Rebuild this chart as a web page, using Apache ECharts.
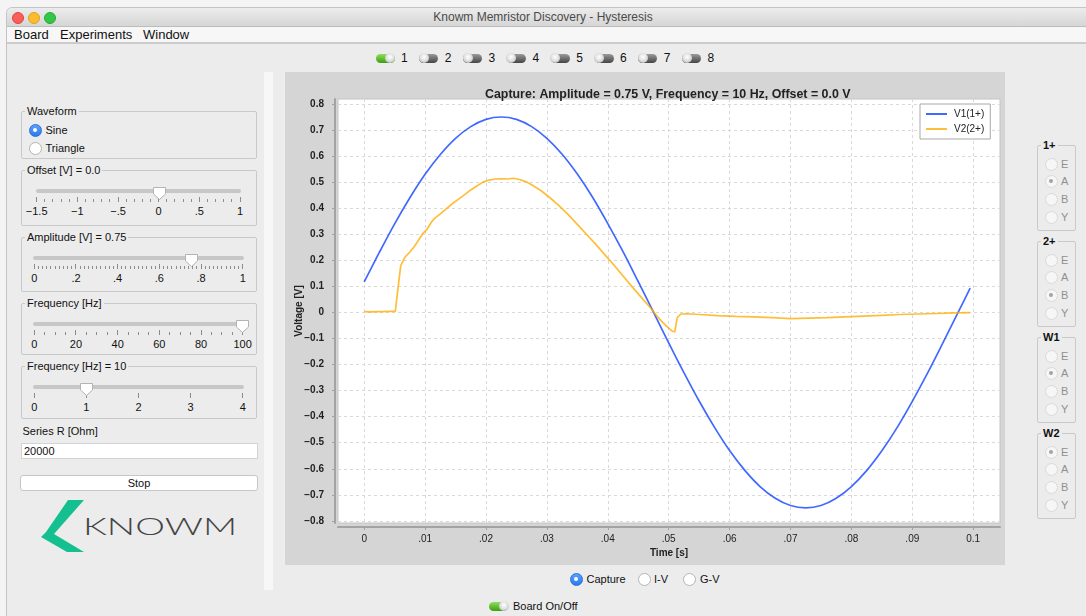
<!DOCTYPE html>
<html><head><meta charset="utf-8">
<script src="https://cdn.jsdelivr.net/npm/echarts@6/dist/echarts.min.js"></script>
<style>
html,body{margin:0;padding:0;width:1086px;height:616px;overflow:hidden;background:#f4f4f4;font-family:"Liberation Sans",Arial,sans-serif;color:#111;}
.a{position:absolute;white-space:nowrap;}
#chart{position:absolute;left:285px;top:72px;width:720px;height:493px;}
</style></head>
<body>
<div id="ui"></div>
<div id="chart"></div>
<script>
// ---------------- DATA ----------------
const chartTitle = 'Capture: Amplitude = 0.75 V, Frequency = 10 Hz, Offset = 0.0 V';
const seriesNames = ['V1(1+)', 'V2(2+)'];
const xAxisName = 'Time [s]';
const yAxisName = 'Voltage [V]';
const timeTicks = [0, 0.01, 0.02, 0.03, 0.04, 0.05, 0.06, 0.07, 0.08, 0.09, 0.1];
const timeTickLabels = ['0', '.01', '.02', '.03', '.04', '.05', '.06', '.07', '.08', '.09', '0.1'];
const voltTicks = [-0.8, -0.7, -0.6, -0.5, -0.4, -0.3, -0.2, -0.1, 0, 0.1, 0.2, 0.3, 0.4, 0.5, 0.6, 0.7, 0.8];
const voltTickLabels = ['\u22120.8', '\u22120.7', '\u22120.6', '\u22120.5', '\u22120.4', '\u22120.3', '\u22120.2', '\u22120.1', '0', '0.1', '0.2', '0.3', '0.4', '0.5', '0.6', '0.7', '0.8'];

const v1Time = [0, 0.0025, 0.005, 0.0075, 0.01, 0.0125, 0.015, 0.0175, 0.02, 0.0225, 0.025, 0.0275, 0.03, 0.0325, 0.035, 0.0375, 0.04, 0.0425, 0.045, 0.0475, 0.05, 0.0525, 0.055, 0.0575, 0.06, 0.0625, 0.065, 0.0675, 0.07, 0.0725, 0.075, 0.0775, 0.08, 0.0825, 0.085, 0.0875, 0.09, 0.0925, 0.095, 0.0975, 0.0995];
const v1Volt = [0.117, 0.231, 0.340, 0.440, 0.530, 0.606, 0.668, 0.713, 0.741, 0.750, 0.741, 0.713, 0.668, 0.607, 0.531, 0.442, 0.341, 0.233, 0.118, 0.001, -0.117, -0.231, -0.340, -0.440, -0.530, -0.606, -0.668, -0.713, -0.741, -0.750, -0.741, -0.713, -0.668, -0.607, -0.531, -0.442, -0.341, -0.233, -0.118, -0.001, 0.093];

const v2Time = [0, 0.001, 0.002, 0.003, 0.004, 0.0051, 0.0060, 0.0067, 0.0075, 0.0082, 0.0090, 0.0096, 0.0103, 0.0106, 0.0110, 0.0115, 0.0125, 0.0135, 0.0145, 0.0155, 0.0165, 0.0175, 0.0185, 0.0195, 0.0205, 0.0215, 0.0225, 0.0235, 0.0245, 0.0255, 0.0265, 0.0275, 0.0290, 0.0305, 0.0320, 0.0335, 0.0350, 0.0365, 0.0380, 0.0395, 0.0410, 0.0425, 0.0440, 0.0455, 0.0470, 0.0480, 0.0490, 0.0500, 0.0506, 0.0510, 0.0514, 0.0520, 0.0530, 0.0550, 0.0580, 0.0610, 0.0640, 0.0670, 0.0700, 0.0730, 0.0760, 0.0790, 0.0820, 0.0850, 0.0880, 0.0910, 0.0940, 0.0970, 0.0995];
const v2Volt = [0.003, 0.002, 0.003, 0.003, 0.004, 0.004, 0.180, 0.212, 0.232, 0.252, 0.280, 0.302, 0.318, 0.322, 0.345, 0.360, 0.378, 0.398, 0.418, 0.435, 0.452, 0.470, 0.485, 0.500, 0.508, 0.512, 0.513, 0.512, 0.515, 0.510, 0.502, 0.490, 0.468, 0.440, 0.410, 0.375, 0.338, 0.300, 0.262, 0.222, 0.182, 0.140, 0.098, 0.058, 0.018, -0.012, -0.038, -0.060, -0.072, -0.075, -0.020, -0.006, -0.005, -0.008, -0.012, -0.015, -0.017, -0.020, -0.024, -0.022, -0.020, -0.017, -0.014, -0.011, -0.008, -0.006, -0.004, -0.002, -0.001];

// ---------------- UI (application window around the chart) ----------------
const ui = document.getElementById('ui');
function el(style, text, parent) {
  const d = document.createElement('div');
  d.className = 'a';
  d.style.cssText = style;
  if (text !== undefined) d.textContent = text;
  (parent || ui).appendChild(d);
  return d;
}
el('left:7px;top:8px;width:1085px;height:620px;background:#ececec;border-top-left-radius:5px;box-shadow:0 0 0 1px #c4c4c4;');
el('left:7px;top:8px;width:1085px;height:18px;background:linear-gradient(#ececec,#d6d6d6);border-top-left-radius:5px;border-bottom:1px solid #bdbdbd;');
el('left:0;top:9px;width:1086px;text-align:center;font-size:12px;line-height:16px;color:#4a4a4a;', 'Knowm Memristor Discovery - Hysteresis');
[['#fc5f57','#e0443e',17],['#fdbc2e','#dea123',33],['#33c748','#27aa35',49]].forEach(c => {
  el('left:'+(c[2]-5.5)+'px;top:11.5px;width:10px;height:10px;border-radius:50%;background:'+c[0]+';border:0.5px solid '+c[1]+';');
});
el('left:7px;top:27px;width:1085px;height:15px;background:#f7f7f7;border-bottom:2px solid #cbcbcb;');
[['Board',14],['Experiments',60],['Window',143]].forEach(m => el('left:'+m[1]+'px;top:27px;font-size:13px;line-height:15px;color:#111;', m[0]));

function toggle(x, y, on) {
  const bg = on ? 'linear-gradient(#8ee05a,#3d9e12)' : 'linear-gradient(#9a9a9a,#454545)';
  el('left:'+x+'px;top:'+(y-4.5)+'px;width:19px;height:9px;border-radius:4.5px;background:'+bg+';');
  const kx = on ? x + 9.5 : x - 0.5;
  el('left:'+kx+'px;top:'+(y-5)+'px;width:10px;height:10px;border-radius:50%;background:radial-gradient(circle at 50% 40%,#ffffff 0%,#e2e2e2 45%,#a9a9a9 100%);');
}
for (let i = 0; i < 8; i++) {
  const x = 375.5 + 43.8 * i;
  toggle(x, 58, i === 0);
  el('left:'+(x+25.5)+'px;top:51px;font-size:12px;line-height:14px;', String(i + 1));
}
toggle(489, 606, true);
el('left:513px;top:599px;font-size:11px;line-height:14px;', 'Board On/Off');

el('left:264px;top:72px;width:9px;height:518px;background:#f7f7f7;');

function radio(cx, cy, state) {
  let s = 'left:'+(cx-6)+'px;top:'+(cy-6)+'px;width:11px;height:11px;border-radius:50%;';
  if (state === 'sel') s += 'background:linear-gradient(#5aa2fb,#2a7af2);border:0.5px solid #2a6fd6;';
  else if (state === 'off') s += 'background:#fff;border:0.5px solid #b4b4b4;';
  else s += 'background:#f6f6f6;border:0.5px solid #d9d9d9;';
  el(s);
  if (state === 'sel') el('left:'+(cx-2.2)+'px;top:'+(cy-2.2)+'px;width:4.5px;height:4.5px;border-radius:50%;background:#fff;');
  if (state === 'dissel') el('left:'+(cx-2)+'px;top:'+(cy-2)+'px;width:4px;height:4px;border-radius:50%;background:#a4a4a4;');
}
function box(x, y, w, h, title, bold) {
  el('left:'+x+'px;top:'+y+'px;width:'+w+'px;height:'+h+'px;border:1px solid #c9c9c9;border-radius:2px;');
  el('left:'+(x+4)+'px;top:'+(y-7)+'px;padding:0 2px;background:#ececec;font-size:11px;line-height:14px;color:#111;'+(bold?'font-weight:bold;':''), title);
}
function slider(x0, x1, ty, knob, labels, n, majorEvery) {
  el('left:'+(x0-1)+'px;top:'+(ty-2)+'px;width:'+(x1-x0+2)+'px;height:4px;border-radius:2px;background:#c7c7c7;');
  for (let i = 0; i <= n; i++) {
    const x = x0 + (x1 - x0) * i / n;
    const major = i % majorEvery === 0;
    el('left:'+(x-0.5)+'px;top:'+(ty+(major?6:8))+'px;width:1px;height:'+(major?5:3)+'px;background:#8c8c8c;');
  }
  labels.forEach((t, i) => {
    const x = x0 + (x1 - x0) * i / (labels.length - 1);
    el('left:'+(x-20)+'px;width:40px;text-align:center;top:'+(ty+13)+'px;font-size:11px;line-height:14px;', t);
  });
  const svg = '<svg width="15" height="15" xmlns="http://www.w3.org/2000/svg"><path d="M1.5,1.5 H13.5 V8 L7.5,13.5 L1.5,8 Z" fill="#fff" stroke="#b3b3b3" stroke-width="1"/></svg>';
  const k = el('left:'+(knob-7.5)+'px;top:'+(ty-5)+'px;width:15px;height:15px;');
  k.innerHTML = svg;
}
box(21, 111, 234, 46, 'Waveform');
radio(35, 130, 'sel'); el('left:45.5px;top:123px;font-size:11px;line-height:14px;', 'Sine');
radio(35, 148, 'off'); el('left:45.5px;top:141px;font-size:11px;line-height:14px;', 'Triangle');
box(21, 170, 234, 54, 'Offset [V] = 0.0');
slider(36.7, 240, 190.7, 159.3, ['\u22121.5', '\u22121', '\u2212.5', '0', '.5', '1'], 25, 5);
box(21, 237, 234, 53, 'Amplitude [V] = 0.75');
slider(34.3, 242.7, 258.3, 191.2, ['0', '.2', '.4', '.6', '.8', '1'], 50, 10);
box(21, 303, 234, 50, 'Frequency [Hz]');
slider(34.3, 242.7, 324, 242.7, ['0', '20', '40', '60', '80', '100'], 20, 4);
box(21, 366, 234, 51, 'Frequency [Hz] = 10');
slider(34.3, 242.7, 387.3, 86.8, ['0', '1', '2', '3', '4'], 4, 1);
el('left:22.5px;top:424px;font-size:11px;line-height:14px;', 'Series R [Ohm]');
el('left:21px;top:443px;width:233px;height:14px;background:#fff;border:1px solid #d3d3d3;font-size:11px;line-height:14px;padding-left:2px;', '20000');
el('left:20px;top:475px;width:236px;height:14px;background:#fff;border:1px solid #c6c6c6;border-radius:3px;font-size:11px;line-height:14px;text-align:center;', 'Stop');
const logo = el('left:38px;top:497px;width:205px;height:58px;');
logo.innerHTML = '<svg width="205" height="58" xmlns="http://www.w3.org/2000/svg">' +
  '<polygon points="30,3 46,3 16,37 46,55 29,55 3,40 8,35" fill="#14c08f"/>' +
  '<text x="45" y="38" font-family="Lato, Open Sans, sans-serif" font-size="23" font-weight="300" fill="#444" textLength="154" lengthAdjust="spacingAndGlyphs">KNOWM</text></svg>';

const groups = [['1+', 145, 'A'], ['2+', 241, 'B'], ['W1', 337, 'A'], ['W2', 433, 'E']];
groups.forEach(g => {
  box(1037, g[1], 37, 84, g[0], true);
  ['E', 'A', 'B', 'Y'].forEach((L, i) => {
    const cy = g[1] + 18.5 + 17.7 * i;
    radio(1050.7, cy, L === g[2] ? 'dissel' : 'dis');
    el('left:1061px;top:'+(cy-7)+'px;font-size:11px;line-height:14px;color:#8f8f8f;', L);
  });
});

radio(576, 579, 'sel'); el('left:586.5px;top:572px;font-size:11px;line-height:14px;', 'Capture');
radio(644.3, 579, 'off'); el('left:654px;top:572px;font-size:11px;line-height:14px;', 'I-V');
radio(689.3, 579, 'off'); el('left:700px;top:572px;font-size:11px;line-height:14px;', 'G-V');

// ---------------- CHART ----------------
function pick(ticks, labels, v) {
  for (let i = 0; i < ticks.length; i++) if (Math.abs(ticks[i] - v) < 1e-9) return labels[i];
  return '';
}
const chart = echarts.init(document.getElementById('chart'), null, {renderer: 'canvas'});
const font = 'Liberation Sans';
chart.setOption({
  animation: false,
  backgroundColor: '#d5d5d5',
  textStyle: {fontFamily: font},
  title: {
    text: chartTitle, left: 195, top: 12,
    textStyle: {fontSize: 12.4, fontWeight: 'bold', color: '#222', fontFamily: font}
  },
  legend: {
    orient: 'vertical', left: 635, top: 32,
    data: seriesNames,
    icon: 'rect', itemWidth: 21, itemHeight: 2, itemGap: 5,
    padding: [5, 6, 5, 6],
    backgroundColor: '#fff', borderColor: '#a8a8a8', borderWidth: 1,
    textStyle: {fontSize: 10, color: '#222', fontFamily: font, padding: [0, 0, 0, 2]}
  },
  grid: {
    left: 53, top: 27, width: 662, height: 424,
    containLabel: false, outerBoundsMode: 'none',
    show: true, backgroundColor: '#ffffff', borderColor: '#c4c4c4', borderWidth: 1
  },
  xAxis: {
    type: 'value', min: -0.0043, max: 0.1044, offset: 4,
    name: xAxisName, nameLocation: 'middle', nameGap: 21, nameMoveOverlap: false,
    nameTextStyle: {fontSize: 10, fontWeight: 'bold', color: '#222', fontFamily: font},
    axisLine: {show: true, onZero: false, lineStyle: {color: '#a3a3a3', width: 2}},
    axisTick: {show: true, customValues: timeTicks, length: 3, lineStyle: {color: '#a3a3a3'}},
    axisLabel: {customValues: timeTicks, margin: 7, fontSize: 10, color: '#222', fontFamily: font,
      formatter: v => pick(timeTicks, timeTickLabels, v)},
    splitLine: {show: true, lineStyle: {color: '#d9d9d9', type: [3, 3], width: 1}}
  },
  yAxis: {
    type: 'value', min: -0.808, max: 0.819, offset: 3,
    name: yAxisName, nameLocation: 'middle', nameGap: 31, nameMoveOverlap: false,
    nameTextStyle: {fontSize: 10, fontWeight: 'bold', color: '#222', fontFamily: font},
    axisLine: {show: true, onZero: false, lineStyle: {color: '#a3a3a3', width: 2}},
    axisTick: {show: true, customValues: voltTicks, length: 3, lineStyle: {color: '#a3a3a3'}},
    axisLabel: {customValues: voltTicks, margin: 11, fontSize: 10, fontWeight: 'bold', color: '#222', fontFamily: font,
      formatter: v => pick(voltTicks, voltTickLabels, v)},
    splitLine: {show: true, lineStyle: {color: '#d9d9d9', type: [3, 3], width: 1}}
  },
  series: [
    {name: seriesNames[0], type: 'line', showSymbol: false, smooth: 0.3,
     data: v1Time.map((t, i) => [t, v1Volt[i]]),
     itemStyle: {color: 'rgba(0,55,255,0.75)'}, lineStyle: {color: 'rgba(0,55,255,0.75)', width: 1.7}},
    {name: seriesNames[1], type: 'line', showSymbol: false,
     data: v2Time.map((t, i) => [t, v2Volt[i]]),
     itemStyle: {color: 'rgba(255,172,0,0.78)'}, lineStyle: {color: 'rgba(255,172,0,0.78)', width: 1.7}}
  ]
});
</script>
</body></html>
